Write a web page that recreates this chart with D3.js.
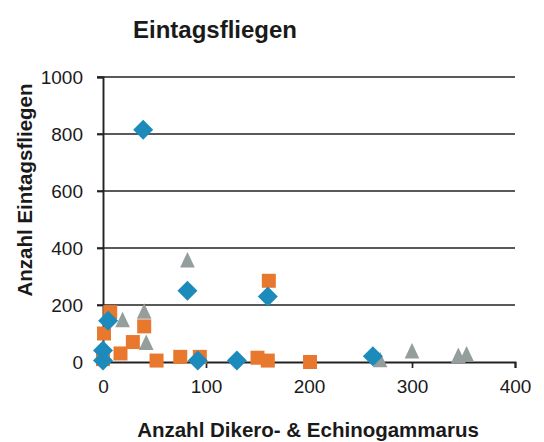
<!DOCTYPE html>
<html>
<head>
<meta charset="utf-8">
<script src="https://cdn.jsdelivr.net/npm/d3@7"></script>
<style>
  body { margin: 0; background: #fff; }
  text { font-family: "Liberation Sans", Arial, sans-serif; fill: #1a1a1a; }
</style>
</head>
<body>
<svg id="chart" width="544" height="442"></svg>
<script>
// Data (x = Anzahl Dikero- & Echinogammarus, y = Anzahl Eintagsfliegen)
const blueX = [39, 82, 5, 0, 0, 92, 130, 160, 262];
const blueY = [815, 250, 145, 40, 5, 5, 5, 230, 20];

const orangeX = [7, 1, 0, 17, 29, 40, 52, 75, 94, 150, 160, 161, 201];
const orangeY = [175, 100, 10, 30, 70, 125, 5, 18, 18, 15, 5, 285, 0];

const grayX = [82, 40, 42, 19, 269, 300, 345, 353];
const grayY = [350, 170, 60, 140, 0, 30, 15, 20];

const xTicks = [0, 100, 200, 300, 400];
const yTicks = [0, 200, 400, 600, 800, 1000];

const titleText = "Eintagsfliegen";
const xTitle = "Anzahl Dikero- & Echinogammarus";
const yTitle = "Anzahl Eintagsfliegen";

(function () {
const svg = d3.select("#chart");
const mLeft = 103, mRight = 515, mTop = 77, mBottom = 362;

const x = d3.scaleLinear().domain([0, 400]).range([mLeft, mRight]);
const y = d3.scaleLinear().domain([0, 1000]).range([mBottom, mTop]);

// Gridlines
svg.append("g").selectAll("line")
  .data(yTicks.filter(d => d > 0))
  .join("line")
  .attr("x1", mLeft - 6).attr("x2", mRight)
  .attr("y1", d => y(d)).attr("y2", d => y(d))
  .attr("stroke", "#222").attr("stroke-width", 1.7);

// Y axis
const yAxis = svg.append("g").attr("transform", `translate(${mLeft},0)`)
  .call(d3.axisLeft(y).tickValues(yTicks).tickFormat(d3.format("d")).tickSize(6).tickPadding(14));
yAxis.select(".domain").attr("stroke", "#222").attr("stroke-width", 1.9);
yAxis.selectAll(".tick line").attr("stroke", "#222").attr("stroke-width", 1.7);
yAxis.selectAll("text").attr("font-size", 19).attr("fill", "#1a1a1a");

// X axis
const xAxis = svg.append("g").attr("transform", `translate(0,${mBottom})`)
  .call(d3.axisBottom(x).tickValues(xTicks).tickFormat(d3.format("d")).tickSize(6).tickPadding(12));
xAxis.select(".domain").attr("stroke", "#222").attr("stroke-width", 1.9);
xAxis.selectAll(".tick line").attr("stroke", "#222").attr("stroke-width", 1.7);
xAxis.selectAll("text").attr("font-size", 19).attr("fill", "#1a1a1a");

// Markers: gray triangles, orange squares, blue diamonds (on top)
const grayData = grayX.map((v, i) => [v, grayY[i]]);
const orangeData = orangeX.map((v, i) => [v, orangeY[i]]);
const blueData = blueX.map((v, i) => [v, blueY[i]]);

svg.append("g").selectAll("path").data(grayData).join("path")
  .attr("d", d3.symbol(d3.symbolTriangle, 115))
  .attr("transform", d => `translate(${x(d[0])},${y(d[1])}) scale(0.9,1.1)`)
  .attr("fill", "#949e9d");

svg.append("g").selectAll("path").data(orangeData).join("path")
  .attr("d", d3.symbol(d3.symbolSquare, 196))
  .attr("transform", d => `translate(${x(d[0])},${y(d[1])})`)
  .attr("fill", "#e8782e");

svg.append("g").selectAll("path").data(blueData).join("path")
  .attr("d", d3.symbol(d3.symbolSquare, 200))
  .attr("transform", d => `translate(${x(d[0])},${y(d[1])}) rotate(45)`)
  .attr("fill", "#1c8bbb");

// Titles
svg.append("text").attr("x", 215).attr("y", 38).attr("text-anchor", "middle")
  .attr("font-size", 24).attr("font-weight", "bold").text(titleText);

svg.append("text").attr("x", 308).attr("y", 437).attr("text-anchor", "middle")
  .attr("font-size", 20.5).attr("font-weight", "bold").text(xTitle);

svg.append("text").attr("transform", "translate(32,190) rotate(-90)")
  .attr("text-anchor", "middle")
  .attr("font-size", 20.5).attr("font-weight", "bold").text(yTitle);
})();
</script>
</body>
</html>
